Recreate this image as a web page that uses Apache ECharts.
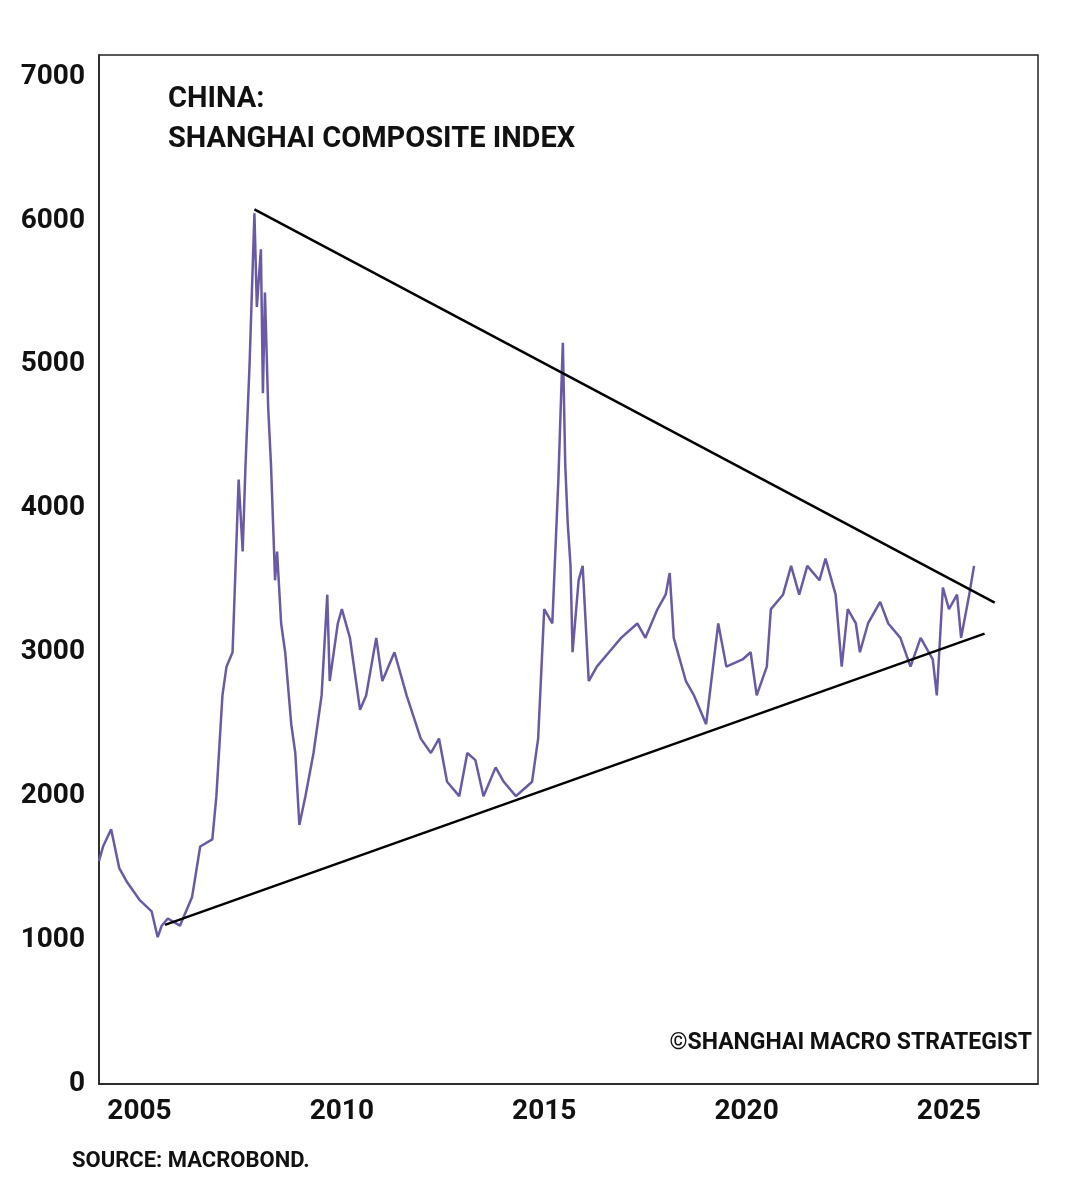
<!DOCTYPE html>
<html><head><meta charset="utf-8">
<script src="https://cdn.jsdelivr.net/npm/echarts@6/dist/echarts.min.js"></script>
<style>html,body{margin:0;background:#fff}#c{width:1080px;height:1190px}</style>
</head><body><div id="c"></div>
<script>
const years=[2004.0,2004.1,2004.3,2004.5,2004.7,2005.0,2005.3,2005.45,2005.55,2005.7,2006.0,2006.3,2006.5,2006.8,2006.9,2007.05,2007.15,2007.3,2007.45,2007.55,2007.62,2007.72,2007.84,2007.9,2008.0,2008.05,2008.1,2008.18,2008.25,2008.35,2008.4,2008.5,2008.6,2008.75,2008.85,2008.95,2009.1,2009.3,2009.5,2009.64,2009.7,2009.8,2009.9,2010.0,2010.2,2010.45,2010.6,2010.85,2011.0,2011.3,2011.6,2011.95,2012.2,2012.4,2012.6,2012.9,2013.1,2013.3,2013.5,2013.8,2014.0,2014.3,2014.5,2014.7,2014.85,2015.0,2015.2,2015.35,2015.46,2015.52,2015.58,2015.65,2015.7,2015.85,2015.95,2016.1,2016.3,2016.6,2016.9,2017.3,2017.5,2017.8,2018.0,2018.1,2018.2,2018.5,2018.7,2018.85,2019.0,2019.3,2019.5,2019.9,2020.1,2020.25,2020.5,2020.6,2020.9,2021.1,2021.3,2021.5,2021.8,2021.95,2022.2,2022.35,2022.5,2022.7,2022.8,2023.0,2023.3,2023.5,2023.8,2024.05,2024.3,2024.6,2024.7,2024.85,2025.0,2025.2,2025.3,2025.5,2025.62];
const index=[1550,1650,1770,1500,1400,1280,1200,1020,1100,1150,1100,1300,1650,1700,2000,2700,2900,3000,4200,3700,4300,5000,6050,5400,5800,4800,5500,4700,4300,3500,3700,3200,3000,2500,2300,1800,2000,2300,2700,3400,2800,3000,3200,3300,3100,2600,2700,3100,2800,3000,2700,2400,2300,2400,2100,2000,2300,2250,2000,2200,2100,2000,2050,2100,2400,3300,3200,4200,5150,4300,3900,3600,3000,3500,3600,2800,2900,3000,3100,3200,3100,3300,3400,3550,3100,2800,2700,2600,2500,3200,2900,2950,3000,2700,2900,3300,3400,3600,3400,3600,3500,3650,3400,2900,3300,3200,3000,3200,3350,3200,3100,2900,3100,2950,2700,3450,3300,3400,3100,3400,3600];
const upperLine=[[2007.84,6078],[2026.13,3345]];
const lowerLine=[[2005.63,1106],[2025.88,3129]];
const xTicks=[2005,2010,2015,2020,2025];
const c=echarts.init(document.getElementById('c'));
const F='Roboto';
c.setOption({
animation:false,
grid:{left:99,right:42,top:55,bottom:106,show:true,borderColor:'#222',borderWidth:1.5},
xAxis:{type:'value',min:2004,max:2027.2,splitLine:{show:false},
 axisLine:{lineStyle:{color:'#222',width:1.5}},axisTick:{show:false},
 axisLabel:{customValues:xTicks,formatter:v=>String(v),color:'#111',fontFamily:F,fontWeight:'bold',fontSize:28,margin:14}},
yAxis:{type:'value',min:0,max:7150,interval:1000,splitLine:{show:false},
 axisLine:{show:true,lineStyle:{color:'#222',width:1.5}},axisTick:{show:false},
 axisLabel:{showMaxLabel:false,formatter:v=>String(v),color:'#111',fontFamily:F,fontWeight:'bold',fontSize:28,margin:14}},
series:[
 {type:'line',data:years.map((y,i)=>[y,index[i]]),symbol:'none',lineStyle:{color:'#6a5aa6',width:2.5}},
 {type:'line',data:upperLine,symbol:'none',lineStyle:{color:'#000',width:2.5}},
 {type:'line',data:lowerLine,symbol:'none',lineStyle:{color:'#000',width:2.5}}
],
graphic:[
 {type:'text',left:168,top:80,style:{text:'CHINA:\nSHANGHAI COMPOSITE INDEX',fill:'#111',font:'bold 29px Roboto',lineHeight:40}},
 {type:'text',right:48,top:1032,style:{text:'©SHANGHAI MACRO STRATEGIST',fill:'#111',font:'bold 23px Roboto'}},
 {type:'text',left:72,top:1150,style:{text:'SOURCE: MACROBOND.',fill:'#111',font:'bold 22px Roboto'}}
]});
</script></body></html>
